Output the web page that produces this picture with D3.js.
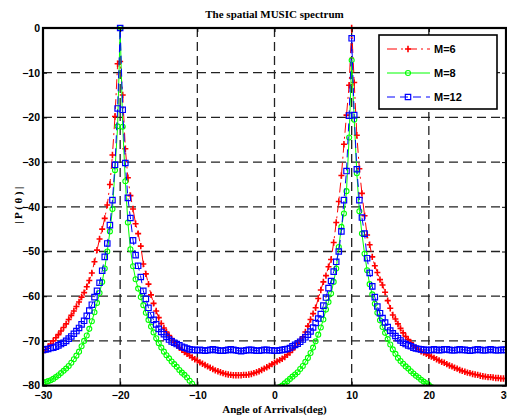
<!DOCTYPE html>
<html>
<head>
<meta charset="utf-8">
<script src="https://cdn.jsdelivr.net/npm/d3@7"></script>
<style>
  html, body { margin: 0; padding: 0; background: #fff; }
  svg { display: block; }
</style>
</head>
<body>
<svg id="chart" width="507" height="417"></svg>
<script>
// Scan angles (deg), one sample every 1/3 degree
const angles = [
  -30,-29.67,-29.33,-29,-28.67,-28.33,-28,-27.67,-27.33,-27,-26.67,-26.33,-26,-25.67,-25.33,-25,-24.67,-24.33,-24,-23.67,-23.33,-23,-22.67,-22.33,-22,-21.67,-21.33,-21,-20.67,-20.33,
  -20,-19.67,-19.33,-19,-18.67,-18.33,-18,-17.67,-17.33,-17,-16.67,-16.33,-16,-15.67,-15.33,-15,-14.67,-14.33,-14,-13.67,-13.33,-13,-12.67,-12.33,-12,-11.67,-11.33,-11,-10.67,-10.33,
  -10,-9.67,-9.33,-9,-8.67,-8.33,-8,-7.67,-7.33,-7,-6.67,-6.33,-6,-5.67,-5.33,-5,-4.67,-4.33,-4,-3.67,-3.33,-3,-2.67,-2.33,-2,-1.67,-1.33,-1,-0.67,-0.33,
  0,0.33,0.67,1,1.33,1.67,2,2.33,2.67,3,3.33,3.67,4,4.33,4.67,5,5.33,5.67,6,6.33,6.67,7,7.33,7.67,8,8.33,8.67,9,9.33,9.67,
  10,10.33,10.67,11,11.33,11.67,12,12.33,12.67,13,13.33,13.67,14,14.33,14.67,15,15.33,15.67,16,16.33,16.67,17,17.33,17.67,18,18.33,18.67,19,19.33,19.67,
  20,20.33,20.67,21,21.33,21.67,22,22.33,22.67,23,23.33,23.67,24,24.33,24.67,25,25.33,25.67,26,26.33,26.67,27,27.33,27.67,28,28.33,28.67,29,29.33,29.67,
  30
];

// Normalised spatial spectrum |P(theta)| in dB for each array size
const spectrumM6 = [
  -72.6,-72.0,-71.3,-70.7,-70.0,-69.3,-68.6,-67.8,-67.0,-66.2,-65.2,-64.3,-63.3,-62.3,-61.3,-60.2,-59.2,-57.9,-56.5,-54.8,-52.3,-49.7,-47.2,-45.0,-42.6,-39.6,-35.0,-28.4,-19.8,-8.0,
  -7.5,-15.0,-27.0,-33.5,-37.5,-40.5,-43.8,-46.0,-48.8,-52.8,-55.0,-57.3,-59.7,-61.6,-63.3,-64.8,-66.1,-67.1,-68.0,-68.8,-69.5,-70.3,-71.0,-71.5,-72.0,-72.5,-72.9,-73.3,-73.7,-74.1,
  -74.4,-74.8,-75.1,-75.4,-75.7,-76.0,-76.3,-76.6,-76.8,-77.0,-77.2,-77.4,-77.5,-77.6,-77.7,-77.7,-77.7,-77.7,-77.6,-77.6,-77.5,-77.4,-77.2,-77.0,-76.8,-76.5,-76.2,-75.9,-75.6,-75.2,
  -74.9,-74.6,-74.3,-74.0,-73.6,-73.1,-72.6,-72.0,-71.2,-70.5,-69.9,-69.1,-68.0,-66.7,-65.2,-63.9,-62.6,-60.5,-58.6,-56.8,-55.4,-53.4,-51.8,-48.0,-43.5,-38.8,-33.0,-26.0,-19.5,-12.8,
  0,-12.2,-24.0,-31.5,-37.0,-42.0,-46.3,-48.5,-51.2,-53.2,-54.7,-56.3,-57.5,-59.1,-61.0,-62.7,-64.2,-65.1,-66.2,-67.2,-68.2,-69.0,-69.7,-70.4,-71.1,-71.5,-71.9,-72.3,-72.6,-72.9,
  -73.2,-73.5,-73.8,-74.1,-74.4,-74.7,-74.9,-75.2,-75.5,-75.7,-76.0,-76.2,-76.5,-76.7,-76.9,-77.1,-77.2,-77.4,-77.5,-77.6,-77.8,-77.9,-78.0,-78.1,-78.1,-78.2,-78.3,-78.3,-78.4,-78.4,
  -78.4
];

const spectrumM8 = [
  -79.4,-79.2,-79.0,-78.8,-78.5,-78.1,-77.7,-77.2,-76.7,-76.2,-75.6,-74.9,-74.1,-73.3,-72.4,-71.2,-70.0,-68.8,-67.3,-65.6,-63.6,-61.5,-59.3,-56.8,-53.8,-50.0,-45.5,-40.5,-31.8,-22.0,
  0,-22.1,-34.3,-43.5,-49.5,-53.3,-56.2,-58.3,-60.2,-62.0,-63.7,-65.3,-66.8,-68.1,-69.4,-70.5,-71.5,-72.4,-73.2,-73.9,-74.6,-75.2,-75.8,-76.5,-77.1,-77.6,-78.2,-78.9,-79.6,-80.3,
  -81.0,-81.6,-82.2,-82.8,-83.3,-83.8,-84.3,-84.7,-85.1,-85.4,-85.7,-85.9,-86.1,-86.2,-86.3,-86.3,-86.2,-86.1,-85.9,-85.6,-85.3,-84.9,-84.5,-84.0,-83.5,-83.0,-82.5,-82.0,-81.6,-81.2,
  -80.9,-80.6,-80.3,-80.0,-79.5,-79.0,-78.5,-78.0,-77.5,-77.0,-76.3,-75.6,-74.7,-73.8,-72.7,-71.5,-70.1,-68.6,-67.0,-65.2,-63.0,-61.3,-59.4,-56.8,-53.8,-49.0,-44.5,-41.5,-36.5,-24.5,
  -7.2,-20.5,-32.5,-41.0,-46.0,-50.5,-54.2,-57.3,-59.6,-61.7,-63.7,-65.4,-66.9,-68.2,-69.6,-70.8,-71.9,-72.9,-73.8,-74.5,-75.1,-75.7,-76.2,-76.8,-77.3,-77.8,-78.2,-78.7,-79.1,-79.5,
  -79.9,-80.3,-80.7,-81.0,-81.4,-81.7,-82.0,-82.3,-82.6,-82.9,-83.1,-83.4,-83.6,-83.8,-84.0,-84.2,-84.4,-84.5,-84.7,-84.8,-84.9,-85.0,-85.1,-85.2,-85.2,-85.3,-85.3,-85.4,-85.4,-85.4,
  -85.4
];

const spectrumM12 = [
  -72.0,-71.9,-71.8,-71.6,-71.5,-71.3,-71.0,-70.7,-70.4,-70.0,-69.5,-69.0,-68.4,-67.8,-67.1,-66.3,-65.5,-64.4,-63.2,-61.9,-60.2,-58.8,-57.0,-54.3,-51.2,-48.2,-44.1,-38.5,-30.6,-18.0,
  0,-18.3,-30.2,-38.0,-42.5,-47.5,-50.8,-53.2,-55.7,-58.8,-60.6,-62.6,-64.2,-65.3,-66.3,-67.3,-68.0,-68.5,-69.1,-69.7,-70.1,-70.4,-70.7,-71.0,-71.3,-71.5,-71.7,-71.9,-72.0,-72.0,
  -72.1,-72.0,-72.1,-72.2,-72.1,-72.0,-71.9,-72.0,-72.1,-72.2,-72.2,-72.1,-72.0,-71.9,-72.0,-72.1,-72.2,-72.3,-72.2,-72.1,-72.0,-72.0,-72.1,-72.2,-72.2,-72.1,-72.0,-72.0,-72.1,-72.1,
  -72.2,-72.2,-72.1,-72.0,-71.9,-71.8,-71.6,-71.2,-70.9,-70.6,-70.2,-69.7,-69.2,-68.6,-67.9,-67.0,-66.0,-65.0,-64.0,-62.1,-60.3,-58.2,-56.6,-54.5,-52.3,-50.0,-45.5,-38.5,-32.0,-19.6,
  -2.3,-19.5,-31.6,-38.5,-42.4,-46.0,-51.5,-54.8,-57.8,-60.2,-62.3,-63.8,-64.9,-65.9,-66.9,-67.7,-68.3,-68.9,-69.4,-69.9,-70.4,-70.7,-71.0,-71.2,-71.5,-71.7,-71.8,-71.9,-72.0,-72.0,
  -72.1,-72.0,-71.9,-72.0,-72.1,-72.0,-71.9,-71.9,-72.0,-72.1,-72.1,-72.0,-71.9,-72.0,-72.0,-72.1,-72.2,-72.1,-72.0,-71.9,-72.0,-72.1,-72.1,-72.0,-71.9,-72.0,-72.1,-72.1,-72.0,-72.0,
  -72.0
];

const seriesNames = ["M=6", "M=8", "M=12"];
const xTicks = [-30, -20, -10, 0, 10, 20, 30];
const yTicks = [0, -10, -20, -30, -40, -50, -60, -70, -80];

const series = [
  { name: seriesNames[0], values: spectrumM6,  color: "#ff0000", dash: "10,4,2,4", marker: "plus" },
  { name: seriesNames[1], values: spectrumM8,  color: "#00ff00", dash: null,       marker: "circle" },
  { name: seriesNames[2], values: spectrumM12, color: "#0000ff", dash: "8,5",      marker: "square" }
];

const svg = d3.select("#chart");
const plot = { left: 43, right: 506, top: 28, bottom: 385.6 };

const x = d3.scaleLinear().domain([-30, 30]).range([plot.left, plot.right]);
const y = d3.scaleLinear().domain([-80, 0]).range([plot.bottom, plot.top]);

const sansBold = "'Liberation Sans', Arial, sans-serif";
const serifBold = "'Liberation Serif', 'Times New Roman', serif";

svg.append("rect").attr("width", 507).attr("height", 417).attr("fill", "#fff");

// Dashed grid at every tick
const grid = svg.append("g").attr("stroke", "#222").attr("stroke-width", 1.3)
  .attr("stroke-dasharray", "9,5");
grid.selectAll("line.v").data(xTicks.slice(1, -1)).join("line")
  .attr("x1", d => x(d)).attr("x2", d => x(d))
  .attr("y1", plot.top).attr("y2", plot.bottom);
grid.selectAll("line.h").data(yTicks.slice(1, -1)).join("line")
  .attr("x1", plot.left).attr("x2", plot.right)
  .attr("y1", d => y(d)).attr("y2", d => y(d));

// Clip the traces to the axes box
svg.append("clipPath").attr("id", "plotClip").append("rect")
  .attr("x", plot.left).attr("y", plot.top - 4)
  .attr("width", plot.right - plot.left).attr("height", plot.bottom - plot.top + 4);

const markerPath = {
  plus: "M-3,0H3M0,-3.2V3.2",
  square: "M-2.7,-2.7H2.7V2.7H-2.7Z"
};

function drawMarker(g, kind, color) {
  if (kind === "circle") {
    g.append("circle").attr("r", 2.5).attr("fill", "none")
      .attr("stroke", color).attr("stroke-width", 1.1);
  } else {
    g.append("path").attr("d", markerPath[kind]).attr("fill", "none")
      .attr("stroke", color).attr("stroke-width", kind === "plus" ? 1.6 : 1.2);
  }
}

const traces = svg.append("g").attr("clip-path", "url(#plotClip)");
const line = d3.line().x(d => x(d[0])).y(d => y(d[1]));

series.forEach(s => {
  const pts = angles.map((a, i) => [a, s.values[i]]);
  const g = traces.append("g");
  g.append("path").datum(pts).attr("d", line)
    .attr("fill", "none").attr("stroke", s.color).attr("stroke-width", 1)
    .attr("stroke-dasharray", s.dash);
  g.selectAll("g.mk").data(pts.filter(p => p[1] >= -80.4)).join("g")
    .attr("transform", p => `translate(${x(p[0])},${y(p[1])})`)
    .each(function () { drawMarker(d3.select(this), s.marker, s.color); });
});

// Axes box with inward ticks
const axes = svg.append("g");
const xAxisB = d3.axisBottom(x).tickValues(xTicks).tickSize(-4).tickPadding(6).tickFormat(d3.format("d"));
const xAxisT = d3.axisTop(x).tickValues(xTicks).tickSize(-4).tickFormat("");
const yAxisL = d3.axisLeft(y).tickValues(yTicks).tickSize(-4).tickPadding(3).tickFormat(d3.format("d"));
const yAxisR = d3.axisRight(y).tickValues(yTicks).tickSize(-4).tickFormat("");

function styleAxis(g) {
  g.select(".domain").remove();
  g.selectAll(".tick line").attr("stroke", "#000").attr("stroke-width", 1);
  g.selectAll("text").attr("fill", "#000")
    .style("font-family", sansBold).style("font-weight", "bold").style("font-size", "10.5px");
}
axes.append("g").attr("transform", `translate(0,${plot.bottom})`).call(xAxisB).call(styleAxis);
axes.append("g").attr("transform", `translate(0,${plot.top})`).call(xAxisT).call(styleAxis);
axes.append("g").attr("transform", `translate(${plot.left},0)`).call(yAxisL).call(styleAxis);
axes.append("g").attr("transform", `translate(${plot.right},0)`).call(yAxisR).call(styleAxis);

axes.append("rect")
  .attr("x", plot.left).attr("y", plot.top)
  .attr("width", plot.right - plot.left).attr("height", plot.bottom - plot.top)
  .attr("fill", "none").attr("stroke", "#000").attr("stroke-width", 2.2);

// Titles
svg.append("text").attr("x", (plot.left + plot.right) / 2).attr("y", 18)
  .attr("text-anchor", "middle").style("font-family", serifBold)
  .style("font-weight", "bold").style("font-size", "11px")
  .text("The spatial MUSIC spectrum");

svg.append("text").attr("x", (plot.left + plot.right) / 2).attr("y", 413)
  .attr("text-anchor", "middle").style("font-family", serifBold)
  .style("font-weight", "bold").style("font-size", "11px")
  .text("Angle of Arrivals(deg)");

svg.append("text").attr("transform", "translate(22,204) rotate(-90)")
  .attr("text-anchor", "middle").style("font-family", serifBold)
  .style("font-weight", "bold").style("font-size", "11px")
  .style("letter-spacing", "2.5px")
  .text("|P(θ)|");

// Legend
const legend = svg.append("g");
legend.append("rect").attr("x", 379).attr("y", 35).attr("width", 118).attr("height", 74)
  .attr("fill", "#fff").attr("stroke", "#000").attr("stroke-width", 1.6);
series.forEach((s, i) => {
  const ly = 49 + i * 24;
  const item = legend.append("g");
  item.append("line").attr("x1", 387).attr("x2", 430).attr("y1", ly).attr("y2", ly)
    .attr("stroke", s.color).attr("stroke-width", 1).attr("stroke-dasharray", s.dash);
  drawMarker(item.append("g").attr("transform", `translate(408,${ly})`), s.marker, s.color);
  item.append("text").attr("x", 434).attr("y", ly + 4)
    .style("font-family", sansBold).style("font-weight", "bold").style("font-size", "11px")
    .text(s.name);
});
</script>
</body>
</html>
